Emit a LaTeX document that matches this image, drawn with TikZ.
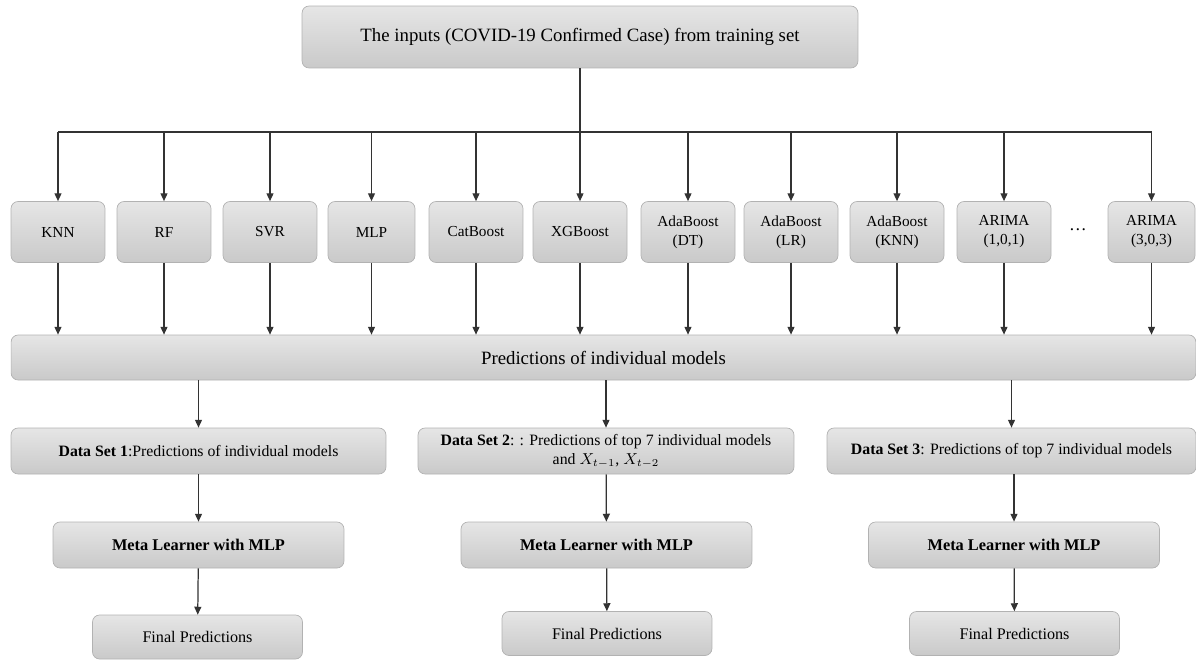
\documentclass[tikz,border=0pt]{standalone}
\usepackage{fontspec}
\setmainfont{Liberation Serif}
\usetikzlibrary{arrows.meta,positioning,calc}

\begin{document}
\begin{tikzpicture}[
    x=0.02cm, y=-0.02cm,
    box/.style={draw=gray!60, rounded corners=4pt, align=center,
                top color=gray!20, bottom color=gray!42, inner sep=1pt},
    model/.style={box, minimum width=1.88cm, minimum height=1.22cm,
                  font=\fontsize{8.7}{10.8}\selectfont},
    dset/.style={box, minimum height=0.92cm, font=\fontsize{9}{10.8}\selectfont},
    meta/.style={box, minimum width=5.82cm, minimum height=0.92cm,
                 font=\fontsize{9.3}{11}\selectfont\bfseries},
    final/.style={box, minimum width=4.2cm, minimum height=0.88cm,
                  font=\fontsize{9.2}{11}\selectfont},
    line/.style={line width=0.7pt, draw=black!80},
    arr/.style={line, -{Triangle[length=4.5pt, width=4pt]}}
]
\useasboundingbox (0,0) rectangle (1196,659);

% input
\node[box, minimum width=11.12cm, minimum height=1.24cm,
      font=\fontsize{10.7}{12.5}\selectfont] (inputs) at (580,37)
    {The inputs (COVID-19 Confirmed Case) from training set};
\coordinate (split) at (580,132);

% individual models
\node[model] (knn)     at (58,232)  {KNN};
\node[model] (rf)      at (164,232) {RF};
\node[model] (svr)     at (270,232) {SVR};
\node[model, minimum width=1.74cm] (mlp) at (371.5,232) {MLP};
\node[model] (cat)     at (476,232) {CatBoost};
\node[model] (xgb)     at (580,232) {XGBoost};
\node[model] (adadt)   at (688,232) {AdaBoost\\(DT)};
\node[model] (adalr)   at (791,232) {AdaBoost\\(LR)};
\node[model] (adaknn)  at (897,232) {AdaBoost\\(KNN)};
\node[model] (arimaa)  at (1004,232) {ARIMA\\(1,0,1)};
\node[font=\fontsize{10}{12}\selectfont] (dots) at (1078,230) {\dots};
\node[model, minimum width=1.74cm] (arimab) at (1151.5,232) {ARIMA\\(3,0,3)};

\node[box, minimum width=23.7cm, minimum height=0.9cm,
      font=\fontsize{10.7}{12.5}\selectfont] (preds) at (603.5,357.5)
    {Predictions of individual models};

\draw[line] (inputs) -- (split);
\draw[line] (knn |- split) -- (arimab |- split);
\foreach \m in {knn,rf,svr,mlp,cat,xgb,adadt,adalr,adaknn,arimaa,arimab}{
    \draw[arr] (\m |- split) -- (\m);
    \draw[arr] (\m) -- (\m |- preds.north);
}

% data sets
\node[dset, minimum width=7.5cm] (ds1) at (198.5,451)
    {\textbf{Data Set 1}:Predictions of individual models};
\node[dset, minimum width=7.52cm] (ds2) at (606,451)
    {\textbf{Data Set 2}: : Predictions of top 7 individual models\\
     and $X_{t-1}$, $X_{t-2}$};
\node[dset, minimum width=7.38cm] (ds3) at (1011.5,451)
    {\textbf{Data Set 3}: Predictions of top 7 individual models};

% meta learners
\node[meta] (meta1) at (198.5,545) {Meta Learner with MLP};
\node[meta] (meta2) at (606.5,545) {Meta Learner with MLP};
\node[meta] (meta3) at (1014,545)  {Meta Learner with MLP};

\node[final] (fin1) at (197.5,637)   {Final Predictions};
\node[final] (fin2) at (607,633.5)   {Final Predictions};
\node[final] (fin3) at (1014.5,633.5) {Final Predictions};

\draw[arr] (preds.south -| ds1) -- (ds1);
\draw[arr] (preds.south -| ds2) -- (ds2);
\draw[arr] (preds.south -| ds3) -- (ds3);
\draw[arr] (ds1) -- (meta1);
\draw[arr] (ds2) -- (meta2);
\draw[arr] (ds3.south -| meta3) -- (meta3);
\draw[arr] (meta1) -- (fin1);
\draw[arr] (meta2) -- (fin2);
\draw[arr] (meta3) -- (fin3);

\end{tikzpicture}
\end{document}
